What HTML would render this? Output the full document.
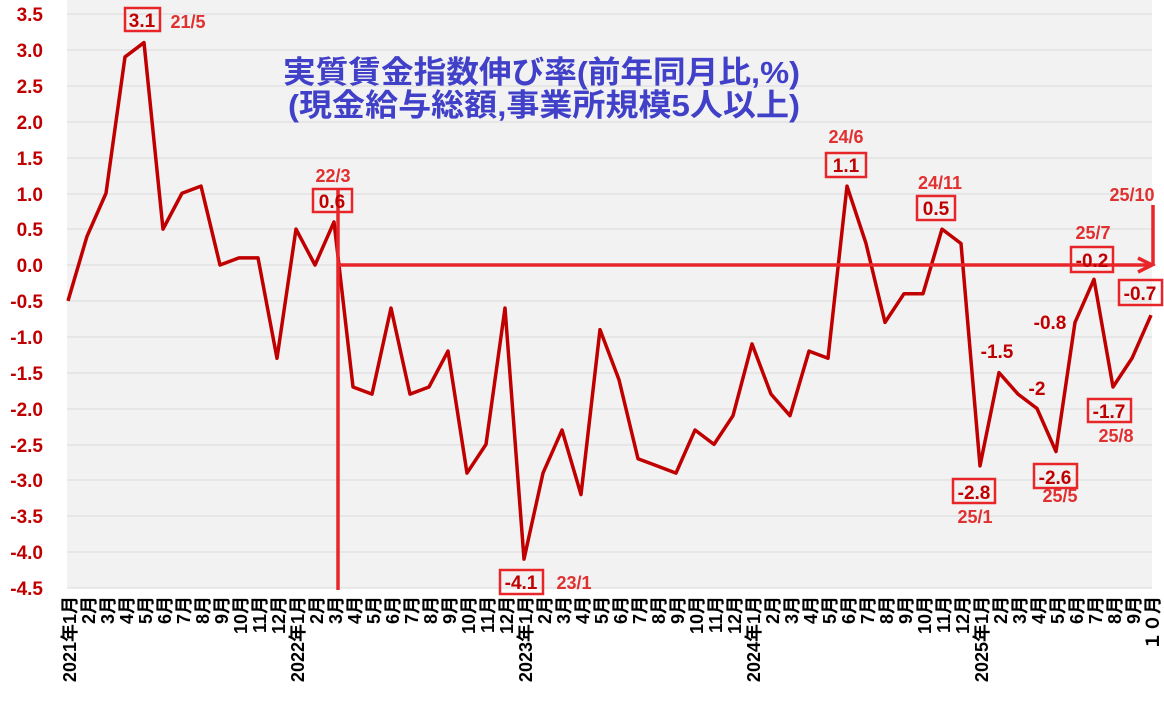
<!DOCTYPE html>
<html><head><meta charset="utf-8"><style>
body{margin:0;background:#fff}
svg text{font-family:"Liberation Sans","Noto Sans CJK JP",sans-serif;font-weight:bold}
</style></head><body>
<svg width="1164" height="697" xmlns="http://www.w3.org/2000/svg">
<rect x="67" y="0" width="1085" height="588" fill="#f2f2f2"/>
<g stroke="#d9d9d9" stroke-width="1">
<line x1="67" x2="1152" y1="14" y2="14"/><line x1="67" x2="1152" y1="50" y2="50"/><line x1="67" x2="1152" y1="86" y2="86"/><line x1="67" x2="1152" y1="122" y2="122"/><line x1="67" x2="1152" y1="158" y2="158"/><line x1="67" x2="1152" y1="194" y2="194"/><line x1="67" x2="1152" y1="229" y2="229"/><line x1="67" x2="1152" y1="265" y2="265"/><line x1="67" x2="1152" y1="301" y2="301"/><line x1="67" x2="1152" y1="337" y2="337"/><line x1="67" x2="1152" y1="373" y2="373"/><line x1="67" x2="1152" y1="409" y2="409"/><line x1="67" x2="1152" y1="445" y2="445"/><line x1="67" x2="1152" y1="480" y2="480"/><line x1="67" x2="1152" y1="516" y2="516"/><line x1="67" x2="1152" y1="552" y2="552"/><line x1="67" x2="1152" y1="588" y2="588"/>
</g>
<g fill="#c00000" font-size="19" text-anchor="end">
<text x="43" y="21">3.5</text><text x="43" y="57">3.0</text><text x="43" y="93">2.5</text><text x="43" y="129">2.0</text><text x="43" y="165">1.5</text><text x="43" y="201">1.0</text><text x="43" y="236">0.5</text><text x="43" y="272">0.0</text><text x="43" y="308">-0.5</text><text x="43" y="344">-1.0</text><text x="43" y="380">-1.5</text><text x="43" y="416">-2.0</text><text x="43" y="452">-2.5</text><text x="43" y="487">-3.0</text><text x="43" y="523">-3.5</text><text x="43" y="559">-4.0</text><text x="43" y="595">-4.5</text>
</g>
<text x="283" y="83" font-size="31" fill="#4040c8" textLength="517" lengthAdjust="spacingAndGlyphs">実質賃金指数伸び率(前年同月比,%)</text>
<text x="288" y="116" font-size="31" fill="#4040c8" textLength="512" lengthAdjust="spacingAndGlyphs">(現金給与総額,事業所規模5人以上)</text>
<g transform="translate(68,265) scale(19,-71.75)">
<polyline fill="none" stroke="#c00000" stroke-width="3.5" stroke-linejoin="round" vector-effect="non-scaling-stroke" points="0,-0.5 1,0.4 2,1.0 3,2.9 4,3.1 5,0.5 6,1.0 7,1.1 8,0 9,0.1 10,0.1 11,-1.3 12,0.5 13,0 14,0.6 15,-1.7 16,-1.8 17,-0.6 18,-1.8 19,-1.7 20,-1.2 21,-2.9 22,-2.5 23,-0.6 24,-4.1 25,-2.9 26,-2.3 27,-3.2 28,-0.9 29,-1.6 30,-2.7 31,-2.8 32,-2.9 33,-2.3 34,-2.5 35,-2.1 36,-1.1 37,-1.8 38,-2.1 39,-1.2 40,-1.3 41,1.1 42,0.3 43,-0.8 44,-0.4 45,-0.4 46,0.5 47,0.3 48,-2.8 49,-1.5 50,-1.8 51,-2.0 52,-2.6 53,-0.8 54,-0.2 55,-1.7 56,-1.3 57,-0.7"/>
</g>
<g stroke="#e8262a" stroke-width="3.5" fill="none">
<line x1="338" y1="188" x2="338" y2="590"/>
<line x1="338" y1="265" x2="1150" y2="265"/>
<polyline points="1138,258 1152,265 1138,272"/>
<line x1="1153" y1="205" x2="1153" y2="266"/>
</g>
<g fill="none" stroke="#e8262a" stroke-width="2.5">
<rect x="125" y="8" width="35" height="23"/>
<rect x="313" y="189" width="39" height="23"/>
<rect x="500" y="570" width="43" height="24"/>
<rect x="826" y="153" width="40" height="24"/>
<rect x="917" y="196" width="38" height="24"/>
<rect x="1071" y="247" width="42" height="25"/>
<rect x="1119" y="280" width="43" height="25"/>
<rect x="1088" y="399" width="43" height="23"/>
<rect x="953" y="479" width="42" height="24"/>
<rect x="1034" y="464" width="43" height="24"/>
</g>
<g fill="#c00000" font-size="19" text-anchor="middle">
<text x="142" y="27">3.1</text><text x="332" y="208">0.6</text><text x="521" y="589">-4.1</text><text x="846" y="172">1.1</text><text x="936" y="215">0.5</text><text x="1092" y="267">-0.2</text><text x="1140" y="300">-0.7</text><text x="1109" y="418">-1.7</text><text x="974" y="499">-2.8</text><text x="1055" y="484">-2.6</text>
<text x="1050" y="329">-0.8</text><text x="997" y="358">-1.5</text><text x="1037" y="395">-2</text>
</g>
<g fill="#e03030" font-size="18" text-anchor="middle">
<text x="188" y="28">21/5</text><text x="333" y="182">22/3</text><text x="574" y="589">23/1</text><text x="846" y="143">24/6</text><text x="940" y="189">24/11</text><text x="1093" y="239">25/7</text><text x="1132" y="201">25/10</text><text x="1116" y="442">25/8</text><text x="975" y="523">25/1</text><text x="1060" y="502">25/5</text>
</g>
<g font-size="18" fill="#000" text-anchor="end">
<text transform="translate(76,596) rotate(-90)">2021年1月</text>
<text transform="translate(95,596) rotate(-90)">2月</text><text transform="translate(114,596) rotate(-90)">3月</text><text transform="translate(133,596) rotate(-90)">4月</text><text transform="translate(152,596) rotate(-90)">5月</text><text transform="translate(171,596) rotate(-90)">6月</text><text transform="translate(190,596) rotate(-90)">7月</text><text transform="translate(209,596) rotate(-90)">8月</text><text transform="translate(228,596) rotate(-90)">9月</text><text transform="translate(247,596) rotate(-90)">10月</text><text transform="translate(266,596) rotate(-90)">11月</text><text transform="translate(285,596) rotate(-90)">12月</text>
<text transform="translate(304,596) rotate(-90)">2022年1月</text>
<text transform="translate(323,596) rotate(-90)">2月</text><text transform="translate(342,596) rotate(-90)">3月</text><text transform="translate(361,596) rotate(-90)">4月</text><text transform="translate(380,596) rotate(-90)">5月</text><text transform="translate(399,596) rotate(-90)">6月</text><text transform="translate(418,596) rotate(-90)">7月</text><text transform="translate(437,596) rotate(-90)">8月</text><text transform="translate(456,596) rotate(-90)">9月</text><text transform="translate(475,596) rotate(-90)">10月</text><text transform="translate(494,596) rotate(-90)">11月</text><text transform="translate(513,596) rotate(-90)">12月</text>
<text transform="translate(532,596) rotate(-90)">2023年1月</text>
<text transform="translate(551,596) rotate(-90)">2月</text><text transform="translate(570,596) rotate(-90)">3月</text><text transform="translate(589,596) rotate(-90)">4月</text><text transform="translate(608,596) rotate(-90)">5月</text><text transform="translate(627,596) rotate(-90)">6月</text><text transform="translate(646,596) rotate(-90)">7月</text><text transform="translate(665,596) rotate(-90)">8月</text><text transform="translate(684,596) rotate(-90)">9月</text><text transform="translate(703,596) rotate(-90)">10月</text><text transform="translate(722,596) rotate(-90)">11月</text><text transform="translate(741,596) rotate(-90)">12月</text>
<text transform="translate(760,596) rotate(-90)">2024年1月</text>
<text transform="translate(779,596) rotate(-90)">2月</text><text transform="translate(798,596) rotate(-90)">3月</text><text transform="translate(817,596) rotate(-90)">4月</text><text transform="translate(836,596) rotate(-90)">5月</text><text transform="translate(855,596) rotate(-90)">6月</text><text transform="translate(874,596) rotate(-90)">7月</text><text transform="translate(893,596) rotate(-90)">8月</text><text transform="translate(912,596) rotate(-90)">9月</text><text transform="translate(931,596) rotate(-90)">10月</text><text transform="translate(950,596) rotate(-90)">11月</text><text transform="translate(969,596) rotate(-90)">12月</text>
<text transform="translate(988,596) rotate(-90)">2025年1月</text>
<text transform="translate(1007,596) rotate(-90)">2月</text><text transform="translate(1026,596) rotate(-90)">3月</text><text transform="translate(1045,596) rotate(-90)">4月</text><text transform="translate(1064,596) rotate(-90)">5月</text><text transform="translate(1083,596) rotate(-90)">6月</text><text transform="translate(1102,596) rotate(-90)">7月</text><text transform="translate(1121,596) rotate(-90)">8月</text><text transform="translate(1140,596) rotate(-90)">9月</text><text transform="translate(1159,596) rotate(-90)">１０月</text>
</g>
</svg>
</body></html>
